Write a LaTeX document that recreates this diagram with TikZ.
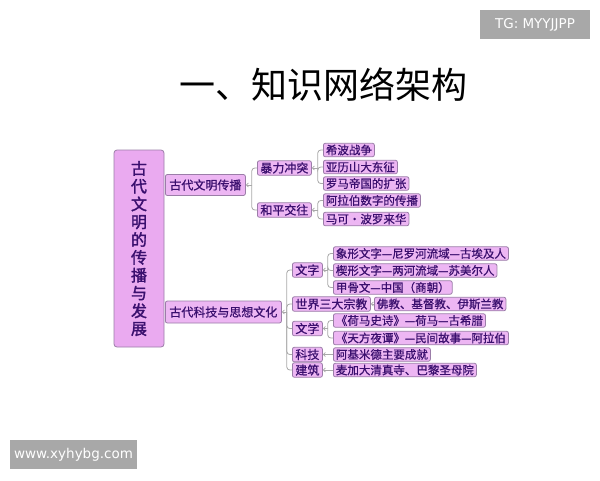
\documentclass[tikz,border=0pt]{standalone}
\usepackage{fontspec}
\setmainfont{Noto Sans CJK SC}
\newfontfamily\rootfont[FakeBold=1.8]{Noto Sans CJK SC}
\newfontfamily\boxfont[FakeBold=0.7]{Noto Sans CJK SC}
\newfontfamily\markfont{DejaVu Sans}
\usetikzlibrary{arrows.meta}
\definecolor{boxfill}{HTML}{EDB6F3}
\definecolor{rootfill}{HTML}{EAAAF0}
\definecolor{boxline}{HTML}{9B7DA8}
\definecolor{boxtext}{HTML}{3A0F6E}
\definecolor{linkgray}{HTML}{A9A9A9}
\definecolor{markgray}{HTML}{A8A8A8}
\begin{document}
\begin{tikzpicture}[x=1pt, y=-1pt,
    anybox/.style={rectangle, draw=boxline, fill=boxfill, text=boxtext,
        rounded corners=2pt, line width=0.8pt, inner ysep=0pt},
    rootbox/.style={anybox, fill=rootfill, minimum width=50pt, minimum height=197pt,
        rounded corners=3pt, font=\rootfont\fontsize{16}{17.8}\selectfont,
        text width=16pt, align=center},
    branchbox/.style={anybox, anchor=west, minimum height=21pt, inner xsep=4pt,
        font=\boxfont\fontsize{12}{12}\selectfont},
    topicbox/.style={anybox, anchor=west, minimum height=14.5pt, inner xsep=3pt,
        font=\boxfont\fontsize{12}{12}\selectfont},
    leafbox/.style={anybox, anchor=west, minimum height=13.5pt, inner xsep=2.5pt,
        font=\boxfont\fontsize{11.5}{11.5}\selectfont},
    link/.style={draw=linkgray, line width=0.8pt, rounded corners=3pt},
    stub/.style={link, {Straight Barb[length=2pt, width=4pt]}-},
    markbox/.style={rectangle, fill=markgray, text=white, inner sep=0pt,
        font=\markfont\fontsize{13.5}{13.5}\selectfont}
]
\useasboundingbox[fill=white] (0,0) rectangle (600,480);

\node (Title) at (323,85) {\fontsize{36}{36}\selectfont 一、知识网络架构};

\node (Root) [rootbox] at (139,248.5) {古\\代\\文\\明\\的\\传\\播\\与\\发\\展};

\node (Spread) [branchbox] at (165,185) {古代文明传播};
\node (Science) [branchbox, minimum height=22pt] at (165,312) {古代科技与思想文化};

% 古代文明传播
\node (Conflict) [topicbox] at (257,168) {暴力冲突};
\node (Peace) [topicbox] at (257,210) {和平交往};
\node (Greco) [leafbox] at (323,150) {希波战争};
\node (Alex) [leafbox] at (323,167) {亚历山大东征};
\node (Rome) [leafbox] at (323,183.5) {罗马帝国的扩张};
\node (Arabic) [leafbox] at (323,200.5) {阿拉伯数字的传播};
\node (Polo) [leafbox] at (323,219) {马可・波罗来华};

% 古代科技与思想文化
\node (Script) [topicbox] at (292,270) {文字};
\node (Faith) [topicbox] at (292,304) {世界三大宗教};
\node (Letters) [topicbox] at (292,328.5) {文学};
\node (Tech) [topicbox] at (292,354.5) {科技};
\node (Build) [topicbox] at (292,370) {建筑};
\node (Egypt) [leafbox] at (333,253.5) {象形文字—尼罗河流域—古埃及人};
\node (Sumer) [leafbox] at (333,270.5) {楔形文字—两河流域—苏美尔人};
\node (Shang) [leafbox] at (333,287.5) {甲骨文—中国（商朝）};
\node (Religions) [leafbox] at (374,304) {佛教、基督教、伊斯兰教};
\node (Homer) [leafbox] at (333,320.5) {《荷马史诗》—荷马—古希腊};
\node (Nights) [leafbox] at (333,338) {《天方夜谭》—民间故事—阿拉伯};
\node (Archi) [leafbox] at (333,354.5) {阿基米德主要成就};
\node (Mecca) [leafbox] at (333,370) {麦加大清真寺、巴黎圣母院};

\draw[stub] (Spread.east) -- ++(6,0) coordinate (SpreadFork);
\draw[link] (SpreadFork) |- (Conflict.west);
\draw[link] (SpreadFork) |- (Peace.west);

\draw[stub] (Conflict.east) -- ++(6,0) coordinate (ConflictFork);
\foreach \leaf in {Greco, Alex, Rome}
  \draw[link] (ConflictFork) |- (\leaf.west);

\draw[stub] (Peace.east) -- ++(6,0) coordinate (PeaceFork);
\foreach \leaf in {Arabic, Polo}
  \draw[link] (PeaceFork) |- (\leaf.west);

\draw[stub] (Science.east) -- ++(5,0) coordinate (ScienceFork);
\foreach \topic in {Script, Faith, Letters, Tech, Build}
  \draw[link] (ScienceFork) |- (\topic.west);

\draw[stub] (Script.east) -- ++(5,0) coordinate (ScriptFork);
\foreach \leaf in {Egypt, Sumer, Shang}
  \draw[link] (ScriptFork) |- (\leaf.west);

\draw[stub] (Letters.east) -- ++(5,0) coordinate (LettersFork);
\foreach \leaf in {Homer, Nights}
  \draw[link] (LettersFork) |- (\leaf.west);

\draw[stub] (Faith.east) -- (Religions.west);
\draw[stub] (Tech.east) -- (Archi.west);
\draw[stub] (Build.east) -- (Mecca.west);

\node (MarkTop) [markbox, minimum width=110pt, minimum height=29pt] at (535,24.5) {TG: MYYJJPP};
\node (MarkBottom) [markbox, minimum width=127pt, minimum height=29pt] at (73.5,454.5) {www.xyhybg.com};
\end{tikzpicture}
\end{document}
